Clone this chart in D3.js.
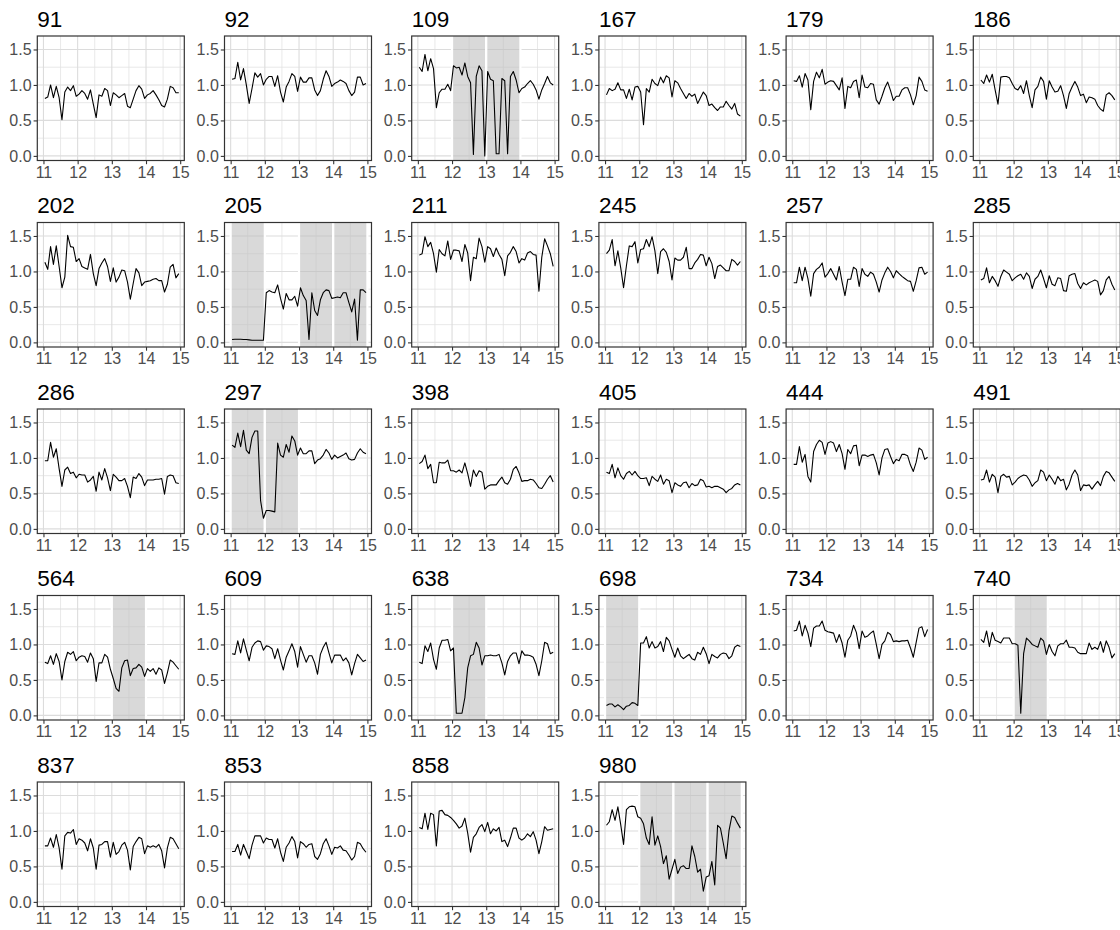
<!DOCTYPE html>
<html>
<head>
<meta charset="utf-8">
<script src="https://cdn.jsdelivr.net/npm/d3@7"></script>
<style>
  body { margin: 0; background: #ffffff; }
  svg { display: block; }
  text { font-family: "Liberation Sans", Arial, Helvetica, sans-serif; }
</style>
</head>
<body>
<svg id="chart" width="1120" height="930"></svg>
<script>
// Monthly index values, Jan 2011 .. Dec 2014 (48 months per site)
const v91  = [0.81,0.83,1.00,0.82,0.98,0.82, 0.51,0.90,0.97,0.92,0.99,0.84, 0.87,0.92,0.88,0.80,0.93,0.73, 0.54,0.86,0.84,0.95,0.92,0.71, 0.89,0.86,0.82,0.85,0.88,0.70, 0.68,0.80,0.92,0.99,0.94,0.81, 0.86,0.88,0.92,0.86,0.79,0.71, 0.69,0.80,0.98,0.96,0.89,0.89];
const v92  = [1.08,1.09,1.32,1.07,1.23,1.00, 0.74,0.95,1.17,1.11,1.16,1.00, 1.08,1.12,1.12,0.98,1.13,0.90, 0.76,0.97,1.05,1.16,1.12,0.91, 1.11,1.04,1.04,1.10,1.10,0.93, 0.85,0.92,1.08,1.20,1.12,0.98, 1.02,1.04,1.07,1.05,1.02,0.92, 0.85,0.90,1.11,1.11,1.00,1.02];
const v109 = [1.25,1.19,1.43,1.20,1.37,1.23, 0.68,0.89,0.94,0.94,1.01,0.92, 1.27,1.24,1.25,1.14,1.31,1.12, 1.03,0.02,1.12,1.27,1.20,0.00, 1.19,1.08,1.06,0.03,0.03,1.09, 1.06,0.03,1.12,1.19,1.07,0.89, 0.95,0.97,1.02,1.06,1.01,0.93, 0.80,0.93,1.02,1.12,1.03,1.00];
const v167 = [0.86,0.95,0.92,0.94,1.03,0.93, 0.93,0.81,0.94,0.79,0.97,0.98, 0.90,0.44,0.95,0.90,1.08,1.02, 0.99,1.11,1.03,1.13,1.10,0.83, 1.06,1.03,0.95,0.88,0.81,0.88, 0.84,0.87,0.74,0.82,0.90,0.85, 0.71,0.73,0.68,0.64,0.69,0.69, 0.77,0.71,0.66,0.74,0.59,0.56];
const v179 = [1.06,1.05,1.13,0.97,1.16,1.07, 0.65,1.05,1.18,1.10,1.22,1.01, 1.04,1.06,1.05,0.99,0.93,1.10, 0.67,0.98,0.96,1.05,1.07,0.82, 1.14,0.97,0.96,1.02,1.01,0.79, 0.73,0.84,0.96,1.04,0.92,0.78, 0.84,0.84,0.93,0.96,0.96,0.86, 0.72,0.85,1.11,1.05,0.93,0.91];
const v186 = [1.07,1.02,1.14,1.04,1.15,0.93, 0.73,1.11,1.12,1.12,1.10,1.02, 0.95,0.93,0.99,0.88,1.06,0.85, 0.68,0.93,0.98,1.11,1.05,0.80, 1.06,0.97,0.90,0.91,0.99,0.85, 0.67,0.88,0.97,1.05,0.97,0.85, 0.87,0.75,0.83,0.82,0.80,0.71, 0.66,0.63,0.86,0.89,0.85,0.79];
const v202 = [1.13,1.03,1.35,1.10,1.36,1.07, 0.77,0.92,1.51,1.35,1.34,1.14, 1.18,1.07,1.05,1.03,1.24,0.97, 0.80,1.04,1.12,1.18,1.07,0.86, 1.05,0.85,0.92,1.02,1.01,0.85, 0.61,0.83,1.04,0.98,0.80,0.85, 0.86,0.87,0.89,0.90,0.87,0.87, 0.71,0.82,1.06,1.10,0.91,0.97];
const v205 = [0.04,0.045,0.045,0.045,0.04,0.04, 0.035,0.03,0.03,0.03,0.03,0.03, 0.70,0.73,0.71,0.70,0.81,0.62, 0.47,0.69,0.60,0.60,0.65,0.51, 0.77,0.66,0.59,0.04,0.70,0.45, 0.38,0.60,0.70,0.74,0.73,0.62, 0.63,0.64,0.63,0.70,0.70,0.56, 0.43,0.61,0.03,0.74,0.74,0.70];
const v211 = [1.23,1.25,1.49,1.35,1.41,1.25, 0.99,1.31,1.25,1.22,1.43,1.17, 1.30,1.30,1.29,1.14,1.38,1.26, 0.87,1.20,1.18,1.47,1.35,1.13, 1.35,1.32,1.21,1.33,1.24,1.17, 0.94,1.22,1.27,1.35,1.28,1.12, 1.18,1.16,1.26,1.28,1.24,1.23, 0.72,1.20,1.46,1.36,1.25,1.07];
const v245 = [1.25,1.30,1.45,1.08,1.29,1.05, 0.77,1.08,1.36,1.35,1.42,1.12, 1.31,1.32,1.45,1.35,1.49,1.29, 0.97,1.28,1.32,1.27,1.14,0.88, 1.19,1.16,1.16,1.20,1.34,1.04, 1.04,1.12,1.17,1.24,1.23,1.08, 1.20,1.11,0.90,1.07,1.09,1.05, 1.01,1.01,1.17,1.14,1.09,1.14];
const v257 = [0.84,0.84,1.06,0.87,1.06,0.90, 0.65,0.97,1.03,1.06,1.12,0.92, 0.97,1.04,0.96,0.88,1.07,0.85, 0.66,0.89,0.89,1.06,1.03,0.79, 1.04,0.96,0.93,0.99,0.96,0.85, 0.71,0.88,0.98,1.06,1.00,0.91, 1.01,0.97,0.93,0.90,0.87,0.86, 0.72,0.87,1.05,1.06,0.96,0.99];
const v285 = [0.88,0.90,1.05,0.84,0.93,0.87, 0.79,0.93,1.02,0.99,0.96,0.87, 0.91,0.94,0.96,0.89,0.98,0.93, 0.76,0.89,0.93,1.02,0.90,0.77, 0.94,0.82,0.80,0.91,0.90,0.73, 0.72,0.94,0.96,0.97,0.83,0.76, 0.84,0.81,0.84,0.86,0.88,0.86, 0.67,0.73,0.88,0.93,0.82,0.74];
const v286 = [0.96,0.96,1.22,1.01,1.13,0.85, 0.60,0.83,0.87,0.78,0.80,0.72, 0.77,0.76,0.76,0.66,0.69,0.74, 0.53,0.80,0.69,0.85,0.72,0.54, 0.77,0.73,0.68,0.68,0.71,0.60, 0.44,0.73,0.71,0.78,0.73,0.61, 0.69,0.69,0.69,0.70,0.70,0.71, 0.49,0.74,0.76,0.75,0.65,0.64];
const v297 = [1.18,1.15,1.35,1.16,1.39,1.11, 1.06,1.29,1.38,1.38,0.40,0.15, 0.26,0.26,0.25,0.24,1.21,1.04, 1.01,1.19,1.08,1.31,1.24,1.04, 1.14,1.06,1.06,1.10,1.10,0.92, 0.97,0.99,1.04,1.12,1.07,0.98, 1.04,1.00,1.02,1.04,1.07,0.99, 0.97,0.98,1.07,1.13,1.08,1.06];
const v398 = [0.92,0.95,1.04,0.85,0.91,0.65, 0.65,0.94,0.93,0.93,0.97,0.82, 0.82,0.80,0.83,0.79,0.93,0.78, 0.60,0.83,0.74,0.82,0.80,0.56, 0.60,0.62,0.62,0.62,0.68,0.73, 0.65,0.63,0.70,0.84,0.88,0.79, 0.67,0.68,0.68,0.70,0.69,0.64, 0.58,0.57,0.63,0.70,0.75,0.66];
const v405 = [0.80,0.78,0.91,0.72,0.86,0.75, 0.70,0.78,0.81,0.76,0.81,0.75, 0.71,0.71,0.72,0.61,0.74,0.70, 0.67,0.76,0.63,0.70,0.68,0.51, 0.65,0.62,0.60,0.65,0.66,0.58, 0.64,0.61,0.62,0.70,0.68,0.59, 0.60,0.58,0.60,0.60,0.58,0.56, 0.51,0.55,0.57,0.62,0.64,0.62];
const v444 = [0.91,0.91,1.16,0.94,1.05,0.74, 0.66,1.09,1.19,1.25,1.22,1.05, 1.21,1.23,1.21,1.09,1.19,1.06, 0.84,1.12,1.06,1.17,1.18,0.89, 1.04,1.04,1.02,1.04,1.05,0.93, 0.76,1.00,1.12,1.13,1.02,0.92, 0.98,0.96,1.05,1.05,1.03,0.90, 0.81,0.94,1.14,1.11,0.98,1.01];
const v491 = [0.69,0.70,0.83,0.66,0.77,0.73, 0.51,0.74,0.77,0.73,0.74,0.62, 0.66,0.71,0.74,0.76,0.75,0.69, 0.60,0.65,0.68,0.83,0.80,0.68, 0.76,0.70,0.63,0.74,0.68,0.70, 0.55,0.63,0.76,0.83,0.76,0.54, 0.62,0.61,0.62,0.56,0.62,0.67, 0.61,0.74,0.81,0.79,0.73,0.67];
const v564 = [0.75,0.73,0.84,0.72,0.87,0.76, 0.50,0.76,0.89,0.86,0.90,0.77, 0.82,0.84,0.83,0.75,0.88,0.80, 0.48,0.74,0.74,0.86,0.82,0.65, 0.52,0.38,0.34,0.67,0.77,0.78, 0.56,0.66,0.67,0.72,0.68,0.55, 0.66,0.62,0.66,0.58,0.67,0.64, 0.45,0.60,0.78,0.75,0.70,0.65];
const v609 = [0.87,0.86,1.05,0.88,1.08,0.92, 0.77,0.96,1.02,1.05,1.04,0.92, 0.98,0.97,0.94,0.80,0.94,0.78, 0.64,0.82,0.91,1.01,0.90,0.68, 0.97,0.86,0.75,0.84,0.84,0.74, 0.58,0.86,0.96,1.03,0.88,0.74, 0.85,0.85,0.85,0.77,0.81,0.74, 0.57,0.73,0.86,0.81,0.76,0.78];
const v638 = [0.75,0.73,0.98,0.90,1.02,0.79, 0.65,0.95,1.06,1.06,1.07,0.91, 0.95,0.03,0.03,0.03,0.25,0.67, 0.84,0.86,1.03,0.95,0.71,0.84, 0.84,0.85,0.84,0.84,0.86,0.74, 0.57,0.76,0.84,0.88,0.88,0.73, 0.91,0.85,0.85,0.84,0.82,0.72, 0.56,0.77,1.03,1.01,0.87,0.89];
const v698 = [0.14,0.16,0.16,0.12,0.15,0.12, 0.08,0.13,0.14,0.18,0.17,0.14, 1.02,1.02,1.11,0.95,1.04,0.95, 0.97,1.04,0.90,1.10,1.05,0.93, 0.82,0.95,0.84,0.80,0.83,0.86, 0.80,0.78,0.89,0.86,0.96,0.87, 0.73,0.86,0.83,0.81,0.86,0.88, 0.87,0.80,0.84,0.96,0.99,0.97];
const v734 = [1.19,1.20,1.33,1.12,1.27,1.16, 0.97,1.23,1.26,1.26,1.33,1.20, 1.18,1.17,1.16,1.03,1.14,1.02, 0.82,1.06,1.12,1.27,1.17,0.94, 1.19,1.10,1.12,1.16,1.19,1.00, 0.80,1.00,1.05,1.17,1.14,1.04, 1.05,1.04,1.05,1.05,1.06,0.95, 0.82,1.03,1.23,1.25,1.11,1.21];
const v740 = [1.07,1.03,1.19,0.97,1.17,1.06, 1.04,1.02,1.09,1.09,1.09,1.01, 1.01,0.99,0.03,0.87,1.09,1.05, 1.00,0.98,0.96,1.09,1.05,0.86, 1.00,0.90,0.84,0.98,1.01,1.01, 1.06,0.96,0.96,0.95,0.89,0.87, 0.87,0.87,1.02,0.93,0.96,0.93, 1.04,0.89,1.05,0.96,0.81,0.87];
const v837 = [0.79,0.79,0.90,0.77,0.95,0.76, 0.46,0.93,0.98,0.97,1.02,0.81, 0.89,0.87,0.83,0.72,0.89,0.76, 0.46,0.80,0.81,0.85,0.85,0.63, 0.84,0.67,0.71,0.80,0.84,0.73, 0.45,0.78,0.85,0.91,0.89,0.68, 0.79,0.77,0.79,0.77,0.81,0.72, 0.48,0.76,0.91,0.89,0.82,0.75];
const v853 = [0.71,0.71,0.81,0.66,0.81,0.71, 0.61,0.80,0.93,0.93,0.93,0.83, 0.90,0.88,0.88,0.76,0.89,0.70, 0.57,0.77,0.83,0.92,0.85,0.62, 0.85,0.82,0.77,0.81,0.82,0.64, 0.60,0.68,0.82,0.89,0.79,0.67, 0.77,0.76,0.79,0.73,0.72,0.66, 0.59,0.64,0.84,0.82,0.75,0.70];
const v858 = [1.05,1.03,1.25,1.02,1.25,1.23, 0.79,1.28,1.29,1.23,1.22,1.19, 1.15,1.10,1.04,1.07,1.18,0.97, 0.70,0.91,0.96,1.05,1.09,0.99, 1.12,0.96,1.03,1.00,1.05,0.85, 0.87,0.78,0.90,1.04,1.04,0.90, 0.87,0.90,0.96,0.92,0.99,0.87, 0.68,0.85,1.06,1.01,1.02,1.03];
const v980 = [1.08,1.13,1.30,1.15,1.34,1.09, 0.81,1.30,1.34,1.35,1.34,1.20, 1.18,1.10,0.90,0.81,1.20,0.80, 0.93,0.78,0.54,0.65,0.32,0.46, 0.60,0.40,0.49,0.51,0.47,0.47, 0.79,0.64,0.42,0.46,0.15,0.35, 0.37,0.57,0.24,1.08,1.04,0.83, 0.61,1.00,1.21,1.19,1.11,1.04];

// Site labels in drawing order (row by row) and their series
const panelIds = ["91","92","109","167","179","186",
                  "202","205","211","245","257","285",
                  "286","297","398","405","444","491",
                  "564","609","638","698","734","740",
                  "837","853","858","980"];
const panelSeries = [v91, v92, v109, v167, v179, v186,
                     v202, v205, v211, v245, v257, v285,
                     v286, v297, v398, v405, v444, v491,
                     v564, v609, v638, v698, v734, v740,
                     v837, v853, v858, v980];

// Years flagged for each site (shaded)
const shadedIds   = ["109", "205", "297", "564", "638", "698", "740", "980"];
const shadedYears = [[12, 13], [11, 13, 14], [11, 12], [13], [12], [11], [12], [12, 13, 14]];

// Axis ticks
const xTicks = [11, 12, 13, 14, 15];
const yTicks = [0, 0.5, 1.0, 1.5];
const xMinor = [11.5, 12.5, 13.5, 14.5];
const yMinor = [0.25, 0.75, 1.25];

// Grid of small plots
const nCols = 6;
const cellW = 187.2, cellH = 186.5;
const pLeft = 37.3, pTop = 36, pW = 147, pH = 124.5;

const x = d3.scaleLinear().domain([10.82, 15.12]).range([0, pW]);
const y = d3.scaleLinear().domain([-0.065, 1.69]).range([pH, 0]);

const line = d3.line()
  .x(d => x(d.t))
  .y(d => y(d.v));

const svg = d3.select("#chart");
svg.append("rect").attr("width", 1120).attr("height", 930).attr("fill", "#ffffff");

const defs = svg.append("defs");
defs.append("clipPath").attr("id", "panel-clip")
  .append("rect").attr("width", pW).attr("height", pH);

panelIds.forEach((id, k) => {
  const col = k % nCols, row = Math.floor(k / nCols);
  const cell = svg.append("g")
    .attr("transform", `translate(${col * cellW},${row * cellH})`);

  // title
  cell.append("text")
    .attr("x", pLeft)
    .attr("y", 26.5)
    .attr("font-size", "22.5px")
    .attr("fill", "#000000")
    .text(id);

  const panel = cell.append("g")
    .attr("transform", `translate(${pLeft},${pTop})`);

  // background grid: minor then major
  const grid = panel.append("g");
  grid.selectAll("line.xminor").data(xMinor).join("line")
    .attr("x1", d => x(d)).attr("x2", d => x(d))
    .attr("y1", 0).attr("y2", pH)
    .attr("stroke", "#e3e3e3").attr("stroke-width", 0.8);
  grid.selectAll("line.yminor").data(yMinor).join("line")
    .attr("x1", 0).attr("x2", pW)
    .attr("y1", d => y(d)).attr("y2", d => y(d))
    .attr("stroke", "#e3e3e3").attr("stroke-width", 0.8);
  grid.selectAll("line.xmajor").data(xTicks).join("line")
    .attr("x1", d => x(d)).attr("x2", d => x(d))
    .attr("y1", 0).attr("y2", pH)
    .attr("stroke", "#dcdcdc").attr("stroke-width", 1.1);
  grid.selectAll("line.ymajor").data(yTicks).join("line")
    .attr("x1", 0).attr("x2", pW)
    .attr("y1", d => y(d)).attr("y2", d => y(d))
    .attr("stroke", "#dcdcdc").attr("stroke-width", 1.1);

  const plot = panel.append("g").attr("clip-path", "url(#panel-clip)");

  // shaded years
  const si = shadedIds.indexOf(id);
  if (si >= 0) {
    plot.selectAll("rect.shade").data(shadedYears[si]).join("rect")
      .attr("x", d => x(d))
      .attr("width", d => x(d + 1) - x(d))
      .attr("y", -5)
      .attr("height", pH + 10)
      .attr("fill", "#bdbdbd")
      .attr("fill-opacity", 0.58)
      .attr("stroke", "#ffffff")
      .attr("stroke-width", 2.2);
  }

  // series line
  const pts = panelSeries[k].map((v, i) => ({ t: 11 + (i + 0.5) / 12, v: v }));
  plot.append("path")
    .datum(pts)
    .attr("d", line)
    .attr("fill", "none")
    .attr("stroke", "#000000")
    .attr("stroke-width", 1.1)
    .attr("stroke-linejoin", "round");

  // panel border
  panel.append("rect")
    .attr("width", pW).attr("height", pH)
    .attr("fill", "none")
    .attr("stroke", "#333333")
    .attr("stroke-width", 1.2);

  // axes
  const xAxis = panel.append("g")
    .attr("transform", `translate(0,${pH})`)
    .call(d3.axisBottom(x).tickValues(xTicks).tickFormat(d3.format("d"))
      .tickSize(3.7).tickPadding(2.3));
  const yAxis = panel.append("g")
    .call(d3.axisLeft(y).tickValues(yTicks).tickFormat(d3.format(".1f"))
      .tickSize(3.7).tickPadding(2));

  [xAxis, yAxis].forEach(ax => {
    ax.select(".domain").remove();
    ax.selectAll(".tick line").attr("stroke", "#333333").attr("stroke-width", 1.1);
    ax.selectAll(".tick text")
      .attr("fill", "#4d4d4d")
      .attr("font-size", "16px")
      .attr("font-family", "'Liberation Sans', Arial, sans-serif");
  });
});
</script>
</body>
</html>
